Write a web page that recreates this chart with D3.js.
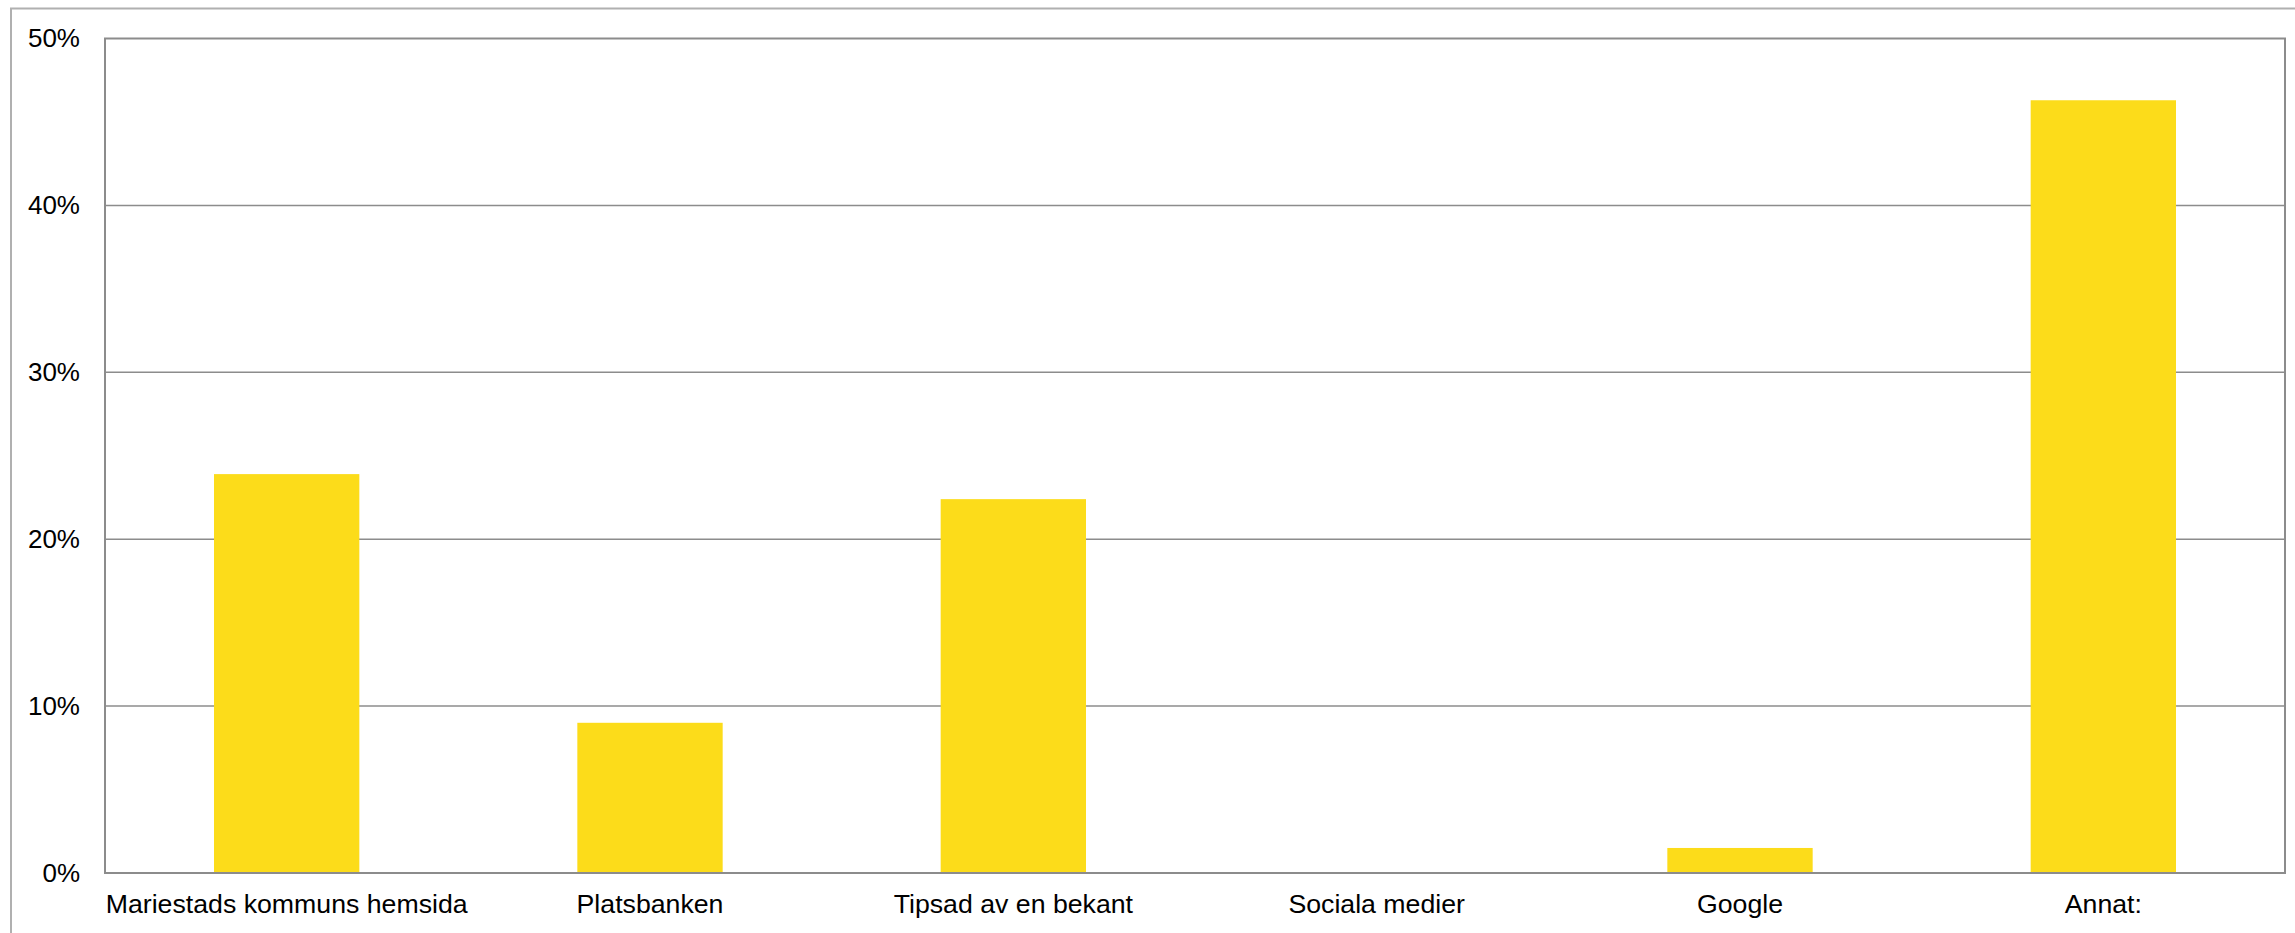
<!DOCTYPE html>
<html><head><meta charset="utf-8">
<script src="https://cdn.jsdelivr.net/npm/d3@7"></script>
<style>html,body{margin:0;padding:0;background:#fff;}svg{display:block;font-family:"Liberation Sans",Arial,sans-serif;}</style>
</head><body>
<svg id="c" width="2295" height="933"></svg>
<script>
const categories = ["Mariestads kommuns hemsida","Platsbanken","Tipsad av en bekant","Sociala medier","Google","Annat:"];
const values = [23.9, 9.0, 22.4, 0, 1.5, 46.3];
const yTicks = [0,10,20,30,40,50];
const yTickLabels = ["0%","10%","20%","30%","40%","50%"];

const svg = d3.select("#c");
const W = 2295, H = 933;
const m = {left:105, top:38.5, right:2285, bottom:873};

// outer frame
svg.append("rect").attr("x",11).attr("y",8.5).attr("width",W+10).attr("height",H+10)
  .attr("fill","none").attr("stroke","#b0b0b0").attr("stroke-width",2);

const x = d3.scaleBand().domain(categories).range([m.left,m.right]).paddingInner(0.6).paddingOuter(0.3);
const y = d3.scaleLinear().domain([0,50]).range([m.bottom,m.top]);

// gridlines
svg.append("g").selectAll("line").data(yTicks.filter(d=>d>0&&d<50)).join("line")
  .attr("x1",m.left).attr("x2",m.right).attr("y1",d=>y(d)).attr("y2",d=>y(d))
  .attr("stroke","#8c8c8c").attr("stroke-width",1.5);

// bars
svg.append("g").selectAll("rect").data(values).join("rect")
  .attr("x",(d,i)=>x(categories[i])).attr("width",x.bandwidth())
  .attr("y",d=>y(d)).attr("height",d=>y(0)-y(d)).attr("fill","#fcdc1a");

// plot frame
svg.append("rect").attr("x",m.left).attr("y",m.top).attr("width",m.right-m.left).attr("height",m.bottom-m.top)
  .attr("fill","none").attr("stroke","#8c8c8c").attr("stroke-width",2);

// y axis labels
const yAxis = d3.axisLeft(y).tickValues(yTicks).tickFormat((d,i)=>yTickLabels[i]).tickSize(0).tickPadding(25);
const gy = svg.append("g").attr("transform",`translate(${m.left},0)`).call(yAxis);
gy.select(".domain").remove();
gy.selectAll("text").attr("font-size",26).attr("fill","#000").attr("font-family","Liberation Sans, Arial, sans-serif");

// x axis labels
const xAxis = d3.axisBottom(x).tickSize(0).tickPadding(21);
const gx = svg.append("g").attr("transform",`translate(0,${m.bottom})`).call(xAxis);
gx.select(".domain").remove();
gx.selectAll("text").attr("font-size",26.7).attr("fill","#000").attr("font-family","Liberation Sans, Arial, sans-serif");
</script>
</body></html>
